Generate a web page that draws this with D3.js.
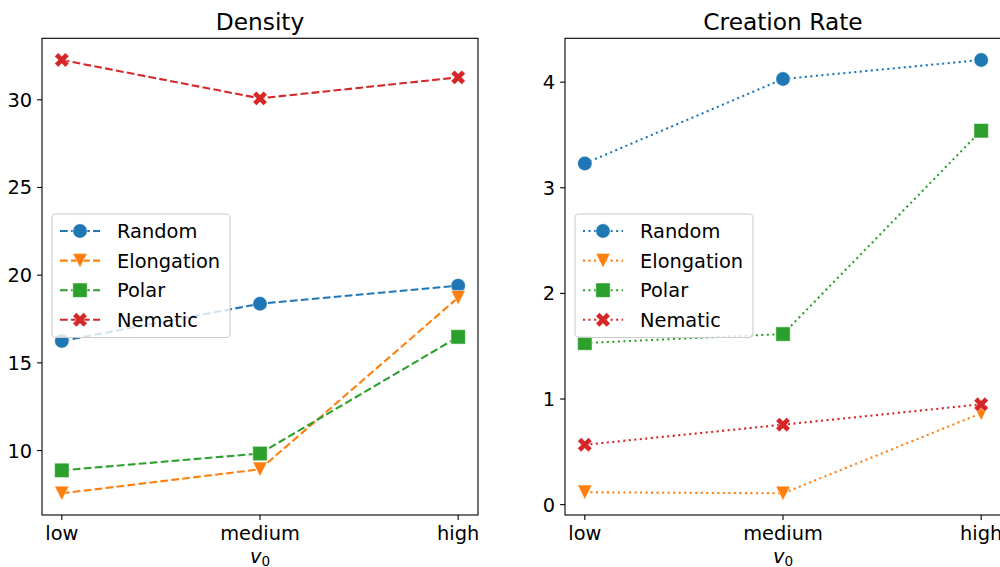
<!DOCTYPE html>
<html>
<head>
<meta charset="utf-8">
<script src="https://cdn.jsdelivr.net/npm/d3@7"></script>
<style>
  html, body { margin: 0; padding: 0; background: #fff; }
  svg { display: block; font-family: "DejaVu Sans", sans-serif; }
</style>
</head>
<body>
<svg id="chart" width="1000" height="567"></svg>
<script>
// Categories along the x axis
const levels = ["low", "medium", "high"];
const seriesNames = ["Random", "Elongation", "Polar", "Nematic"];
const seriesColors = ["#1f77b4", "#ff7f0e", "#2ca02c", "#d62728"];
const seriesMarkers = ["circle", "triangleDown", "square", "xFilled"];

// Density per series
const densityRandom = [16.25, 18.37, 19.40];
const densityElongation = [7.56, 8.93, 18.72];
const densityPolar = [8.87, 9.83, 16.48];
const densityNematic = [32.27, 30.08, 31.28];

// Creation rate per series
const rateRandom = [3.23, 4.03, 4.21];
const rateElongation = [0.117, 0.107, 0.865];
const ratePolar = [1.53, 1.615, 3.54];
const rateNematic = [0.567, 0.757, 0.95];

const densityTicks = [10, 15, 20, 25, 30];
const rateTicks = [0, 1, 2, 3, 4];

const svg = d3.select("#chart");
const FONT = 19.4;
const MS = 14.4; // marker size in px

function markerPath(type, s) {
  const h = s / 2;
  if (type === "circle") {
    const p = d3.path(); p.arc(0, 0, h, 0, 2 * Math.PI); p.closePath(); return p.toString();
  }
  if (type === "triangleDown") {
    return `M0,${h}L${-h},${-h}L${h},${-h}Z`;
  }
  if (type === "square") {
    return `M${-h},${-h}H${h}V${h}H${-h}Z`;
  }
  // filled X outline, in quarter units of the marker size
  const pts = [[-1,-2],[0,-1],[1,-2],[2,-1],[1,0],[2,1],[1,2],[0,1],[-1,2],[-2,1],[-1,0],[-2,-1]];
  return "M" + pts.map(([px, py]) => [(px / 4 * s).toFixed(2), (py / 4 * s).toFixed(2)].join(",")).join("L") + "Z";
}

function panel(cfg) {
  const { x0, x1, y0, y1, title, series, ticks, dash, id } = cfg;
  const g = svg.append("g");

  // matplotlib-style 5% margins
  const xs = d3.scaleLinear().domain([-0.1, 2.1]).range([x0, x1]);
  const all = series.flat();
  const lo = d3.min(all), hi = d3.max(all), pad = (hi - lo) * 0.05;
  const y = d3.scaleLinear().domain([lo - pad, hi + pad]).range([y1, y0]);

  g.append("clipPath").attr("id", id).append("rect")
    .attr("x", x0).attr("y", y0).attr("width", x1 - x0).attr("height", y1 - y0);

  const plot = g.append("g").attr("clip-path", `url(#${id})`);
  const line = d3.line().x((d, i) => xs(i)).y(d => y(d));

  series.forEach((vals, k) => {
    plot.append("path").datum(vals)
      .attr("d", line)
      .attr("fill", "none")
      .attr("stroke", seriesColors[k])
      .attr("stroke-width", 2.08)
      .attr("stroke-dasharray", dash);
    plot.selectAll(null).data(vals).enter().append("path")
      .attr("d", markerPath(seriesMarkers[k], MS))
      .attr("transform", (d, i) => `translate(${xs(i)},${y(d)})`)
      .attr("fill", seriesColors[k])
      .attr("stroke", "#fff")
      .attr("stroke-width", 0.5);
  });

  // y axis
  const ya = g.append("g");
  ticks.forEach(t => {
    const yy = y(t);
    ya.append("line").attr("x1", x0 - 4.9).attr("x2", x0).attr("y1", yy).attr("y2", yy)
      .attr("stroke", "#000").attr("stroke-width", 1.1);
    ya.append("text").attr("x", x0 - 9.8).attr("y", yy).attr("dy", "0.36em")
      .attr("text-anchor", "end").attr("font-size", FONT).attr("fill", "#000").text(t);
  });

  // x axis
  const xa = g.append("g");
  levels.forEach((lv, i) => {
    const xx = xs(i);
    xa.append("line").attr("x1", xx).attr("x2", xx).attr("y1", y1).attr("y2", y1 + 4.9)
      .attr("stroke", "#000").attr("stroke-width", 1.1);
    xa.append("text").attr("x", xx).attr("y", y1 + 25).attr("text-anchor", "middle")
      .attr("font-size", FONT).attr("fill", "#000").text(lv);
  });

  // axis label v_0
  const xl = g.append("text").attr("x", (x0 + x1) / 2).attr("y", 563)
    .attr("text-anchor", "middle").attr("font-size", FONT).attr("fill", "#000");
  xl.append("tspan").attr("font-style", "italic").text("v");
  xl.append("tspan").attr("font-size", FONT * 0.7).attr("dy", 3).text("0");

  // frame
  g.append("rect").attr("x", x0).attr("y", y0).attr("width", x1 - x0).attr("height", y1 - y0)
    .attr("fill", "none").attr("stroke", "#000").attr("stroke-width", 1.1);

  // title
  g.append("text").attr("x", (x0 + x1) / 2).attr("y", 30).attr("text-anchor", "middle")
    .attr("font-size", 23.3).attr("fill", "#000").text(title);

  // legend
  const lx = x0 + 10, ly = 214, lw = 178, lh = 123.5;
  const leg = g.append("g");
  leg.append("rect").attr("x", lx).attr("y", ly).attr("width", lw).attr("height", lh)
    .attr("rx", 4).attr("fill", "#fff").attr("fill-opacity", 0.8)
    .attr("stroke", "#cccccc").attr("stroke-width", 1.1);
  seriesNames.forEach((name, k) => {
    const ry = ly + 17 + k * 29.6;
    leg.append("line").attr("x1", lx + 8).attr("x2", lx + 48).attr("y1", ry).attr("y2", ry)
      .attr("stroke", seriesColors[k]).attr("stroke-width", 2.08).attr("stroke-dasharray", dash);
    leg.append("path").attr("d", markerPath(seriesMarkers[k], MS))
      .attr("transform", `translate(${lx + 28},${ry})`)
      .attr("fill", seriesColors[k]).attr("stroke", "#fff").attr("stroke-width", 0.5);
    leg.append("text").attr("x", lx + 65).attr("y", ry).attr("dy", "0.36em")
      .attr("font-size", FONT).attr("fill", "#000").text(name);
  });
}

panel({
  id: "clipDensity", x0: 42, x1: 478, y0: 38.3, y1: 515, title: "Density",
  series: [densityRandom, densityElongation, densityPolar, densityNematic],
  ticks: densityTicks, dash: "7.7,3.33"
});

panel({
  id: "clipRate", x0: 565, x1: 1001, y0: 38.3, y1: 515, title: "Creation Rate",
  series: [rateRandom, rateElongation, ratePolar, rateNematic],
  ticks: rateTicks, dash: "2.08,3.44"
});
</script>
</body>
</html>
